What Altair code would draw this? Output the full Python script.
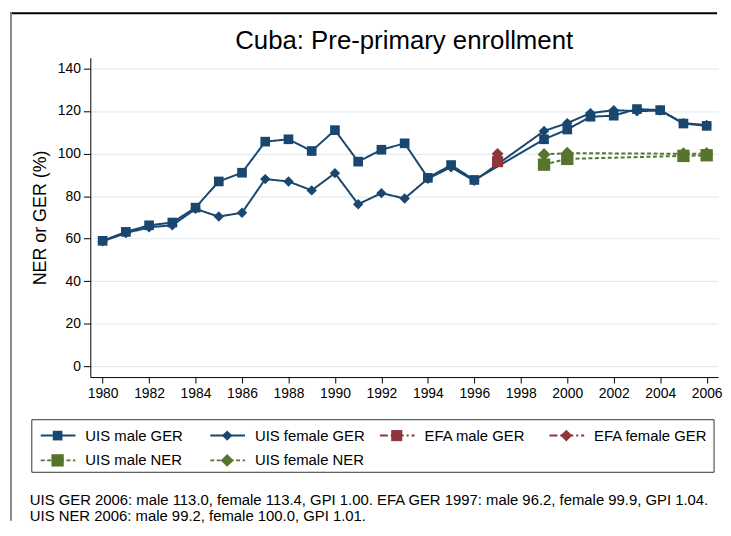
import altair as alt
import pandas as pd

# ---------------- data ----------------
ger_years = [1980, 1981, 1982, 1983, 1984, 1985, 1986, 1987, 1988, 1989, 1990,
             1991, 1992, 1993, 1994, 1995, 1996, 1999, 2000, 2001, 2002, 2003,
             2004, 2005, 2006]
uis_male_ger = [59.0, 63.2, 66.3, 67.6, 74.6, 86.9, 91.0, 105.6, 106.7, 101.2, 111.0,
                96.2, 101.8, 104.8, 88.6, 94.6, 87.6, 106.7, 111.3, 117.3, 117.8, 120.9,
                120.4, 114.1, 113.0]
uis_female_ger = [58.8, 62.6, 65.4, 66.3, 74.0, 70.4, 72.2, 88.0, 86.9, 82.7, 90.8,
                  76.2, 81.4, 78.9, 88.2, 93.6, 87.2, 110.6, 114.3, 119.0, 120.4, 119.9,
                  120.2, 114.3, 113.4]
efa_years = [1997]
efa_male_ger = [96.2]
efa_female_ger = [99.9]
ner_years = [1999, 2000, 2005, 2006]
uis_male_ner = [94.8, 97.5, 98.9, 99.2]
uis_female_ner = [99.6, 100.2, 99.9, 100.0]

series = ["UIS male GER", "UIS female GER", "EFA male GER", "EFA female GER",
          "UIS male NER", "UIS female NER"]
legend_col = [0, 1, 2, 3, 0, 1]
legend_row = [0, 0, 0, 0, 1, 1]
x_ticks = list(range(1980, 2007, 2))
y_ticks = list(range(0, 141, 20))
title_text = "Cuba: Pre-primary enrollment"
y_title = "NER or GER (%)"
note_lines = [
    "UIS GER 2006: male 113.0, female 113.4, GPI 1.00. EFA GER 1997: male 96.2, female 99.9, GPI 1.04.",
    "UIS NER 2006: male 99.2, female 100.0, GPI 1.01.",
]

# ---------------- styles ----------------
NAVY = "#1a476f"
MAROON = "#90353b"
GREEN = "#55752f"
colors = [NAVY, NAVY, MAROON, MAROON, GREEN, GREEN]
shapes = ["square", "diamond", "square", "diamond", "square", "diamond"]
sizes = [95, 170, 95, 170, 95, 170]
dashes = [[1, 0], [1, 0], [8, 3, 2, 3], [8, 3, 2, 3], [4, 2.5], [4, 2.5]]
FONT = "Liberation Sans"

# ---------------- table ----------------
rows = []
for name, yrs, vals in [
    ("UIS male GER", ger_years, uis_male_ger),
    ("UIS female GER", ger_years, uis_female_ger),
    ("EFA male GER", efa_years, efa_male_ger),
    ("EFA female GER", efa_years, efa_female_ger),
    ("UIS male NER", ner_years, uis_male_ner),
    ("UIS female NER", ner_years, uis_female_ner),
]:
    for yv, v in zip(yrs, vals):
        rows.append({"series": name, "year": yv, "value": v})
df = pd.DataFrame(rows)

color_enc = alt.Color("series:N", scale=alt.Scale(domain=series, range=colors), legend=None)
shape_enc = alt.Shape("series:N", scale=alt.Scale(domain=series, range=shapes), legend=None)
size_enc = alt.Size("series:N", scale=alt.Scale(domain=series, range=sizes), legend=None)
dash_enc = alt.StrokeDash("series:N", scale=alt.Scale(domain=series, range=dashes), legend=None)

x_enc = alt.X("year:Q",
              scale=alt.Scale(domain=[1979.47, 2006.49], nice=False, zero=False),
              axis=alt.Axis(values=x_ticks, format="d", title=None, grid=False,
                            labelFontSize=14, labelFont=FONT, labelColor="black",
                            tickSize=6, tickColor="black", domainColor="black",
                            labelPadding=4, labelFlush=False, labelOverlap=False))
y_enc = alt.Y("value:Q",
              scale=alt.Scale(domain=[-5, 145], nice=False, zero=False),
              axis=alt.Axis(values=y_ticks, title=y_title, grid=True,
                            gridColor="#e4ecf0", gridWidth=1.2,
                            labelFontSize=14, labelFont=FONT, labelColor="black",
                            titleFontSize=18, titleFont=FONT, titleFontWeight="normal",
                            titleColor="black", titlePadding=8,
                            tickSize=7, tickColor="black", domainColor="black",
                            labelPadding=3))

base = alt.Chart(df)
lines = base.mark_line(strokeWidth=2).encode(
    x=x_enc, y=y_enc, color=color_enc, strokeDash=dash_enc, detail="series:N",
    order="year:Q")
points = base.mark_point(filled=True, opacity=1, strokeWidth=0).encode(
    x=x_enc, y=y_enc, color=color_enc, shape=shape_enc, size=size_enc)

main = alt.layer(lines, points).properties(
    width=633, height=322,
    title=alt.TitleParams(text=title_text, fontSize=26, font=FONT, fontWeight="normal",
                          color="black", anchor="middle", frame="group", offset=4),
)

# ---------------- legend, note and outer frame ----------------
one = pd.DataFrame({"k": [0]})
leg_df = pd.DataFrame({"series": series, "col": legend_col, "row": legend_row})
lx = alt.X("col:Q", scale=alt.Scale(domain=[0, 3], range=[-50, 463]), axis=None)
ly = alt.Y("row:Q", scale=alt.Scale(domain=[0, 1], range=[16, 41]), axis=None)
leg_base = alt.Chart(leg_df)
seg = leg_base.mark_rule(strokeWidth=2, x2Offset=35).encode(
    x=lx, x2=alt.X2("col:Q"), y=ly, color=color_enc, strokeDash=dash_enc)
mk = leg_base.mark_point(filled=True, opacity=1, strokeWidth=0, xOffset=17).encode(
    x=lx, y=ly, color=color_enc, shape=shape_enc, size=size_enc)
txt = leg_base.mark_text(align="left", baseline="middle", dx=45, fontSize=15,
                         font=FONT, color="black").encode(x=lx, y=ly, text="series:N")
box = alt.Chart(one).mark_rect(fill="transparent", stroke="#333333", strokeWidth=1).encode(
    x=alt.value(-59), x2=alt.value(629), y=alt.value(0), y2=alt.value(53))
note = alt.Chart(pd.DataFrame({"t": ["\n".join(note_lines)]})).mark_text(
    align="left", baseline="top", lineBreak="\n", lineHeight=16, fontSize=15,
    font=FONT, color="black").encode(x=alt.value(-61), y=alt.value(74), text="t:N")
frame_top = alt.Chart(one).mark_rule(color="black", strokeWidth=2).encode(
    x=alt.value(-81), x2=alt.value(632), y=alt.value(-410))
frame_left = alt.Chart(one).mark_rule(color="#888888", strokeWidth=2).encode(
    x=alt.value(-80), y=alt.value(-411), y2=alt.value(102))

legend = alt.layer(frame_top, frame_left, box, seg, mk, txt, note).properties(
    width=633, height=53)

chart = alt.vconcat(main, legend, spacing=43, bounds="flush", padding=0).configure(
    font=FONT).configure_view(stroke="transparent")

chart.save("out.html", embed_options={"renderer": "svg", "actions": False})
